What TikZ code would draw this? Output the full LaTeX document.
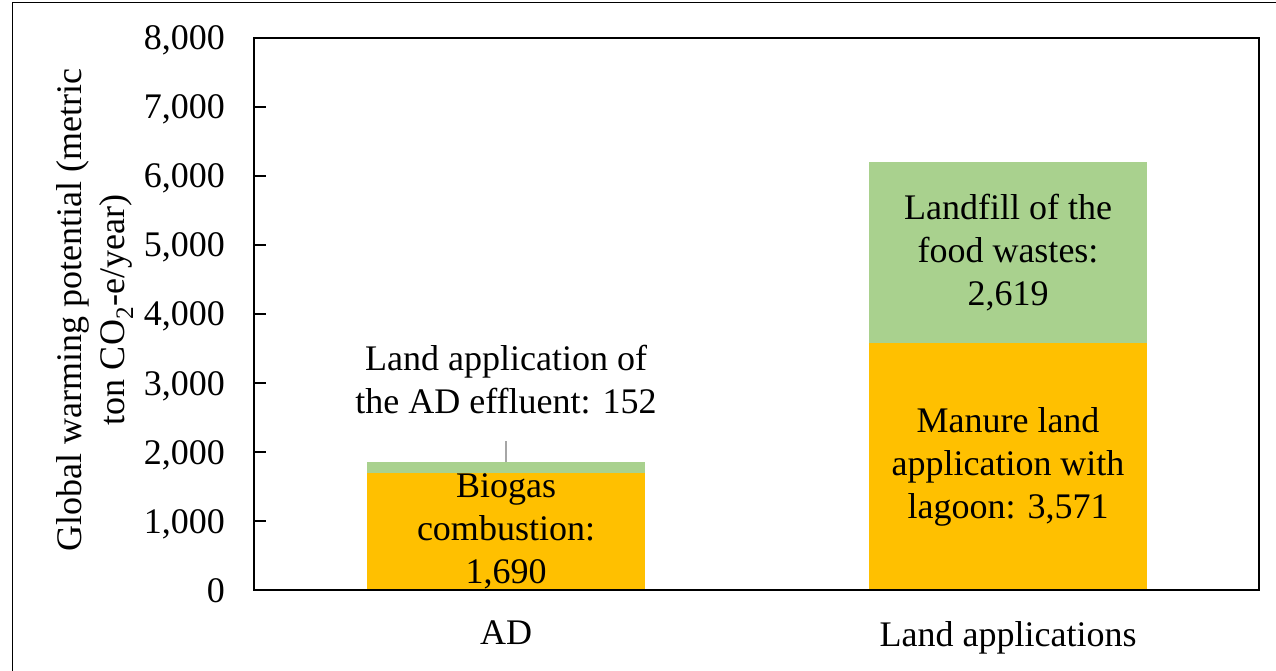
\documentclass[tikz,border=0pt]{standalone}
\usepackage{fontspec}
\setmainfont{Liberation Serif}
\usetikzlibrary{positioning}
\definecolor{barorange}{HTML}{FFC000}
\definecolor{bargreen}{HTML}{A9D18E}
\definecolor{leadgray}{HTML}{A6A6A6}
\tikzstyle{segment} = [rectangle, inner sep=0pt, minimum width=278pt]
\tikzstyle{txt} = [align=center, inner sep=0pt, font=\fontsize{36}{43}\selectfont]
\tikzstyle{frame} = [line width=2pt]
\tikzstyle{leader} = [line width=1.5pt, draw=leadgray]

\begin{document}
\begin{tikzpicture}[x=1pt,y=1pt]
			\useasboundingbox (0,0) rectangle (1276,670);
			\draw[line width=1pt] (12,-2) -- (12,667) -- (1278,667);
			
			% bars (1000 = 69pt)
			\node (adlow) [segment, fill=barorange, minimum height=116.61pt, anchor=south] at (506,80) {};
			\node (adtop) [segment, fill=bargreen, minimum height=10.49pt, anchor=south] at (adlow.north) {};
			\node (landlow) [segment, fill=barorange, minimum height=246.40pt, anchor=south] at (1008,80) {};
			\node (landtop) [segment, fill=bargreen, minimum height=180.71pt, anchor=south] at (landlow.north) {};
			
			\node (biogas) [txt] at (adlow.center) {Biogas\\combustion:\\1,690};
			\node (manure) [txt] at (landlow.center) {Manure land\\application with\\lagoon: 3,571};
			\node (landfill) [txt] at (landtop.center) {Landfill of the\\food wastes:\\2,619};
			\coordinate [above=21pt of adtop] (lead);
			\node (effluent) [txt, above=27pt of lead] {Land application of\\the AD effluent: 152};
			\draw[leader] (adtop.north) -- (lead);
			
			% axes
			\draw[frame] (254,80) rectangle (1259,632);
			\foreach \v in {0,...,8} {
				\draw[line width=1.5pt] (254,80+69*\v) -- (266,80+69*\v);
				\node (y\v) [txt, anchor=base east] at (225,68+69*\v) {\ifnum\v=0 0\else\v,000\fi};
			}
			\node (ytitle) [txt, rotate=90] at (95,360) {Global warming potential (metric\\ton CO\textsubscript{2}-e/year)};
			
			\node (ad) [txt, below=31pt of adlow] {AD};
			\node (land) [txt, below=31pt of landlow] {Land applications};
			
\end{tikzpicture}
\end{document}
